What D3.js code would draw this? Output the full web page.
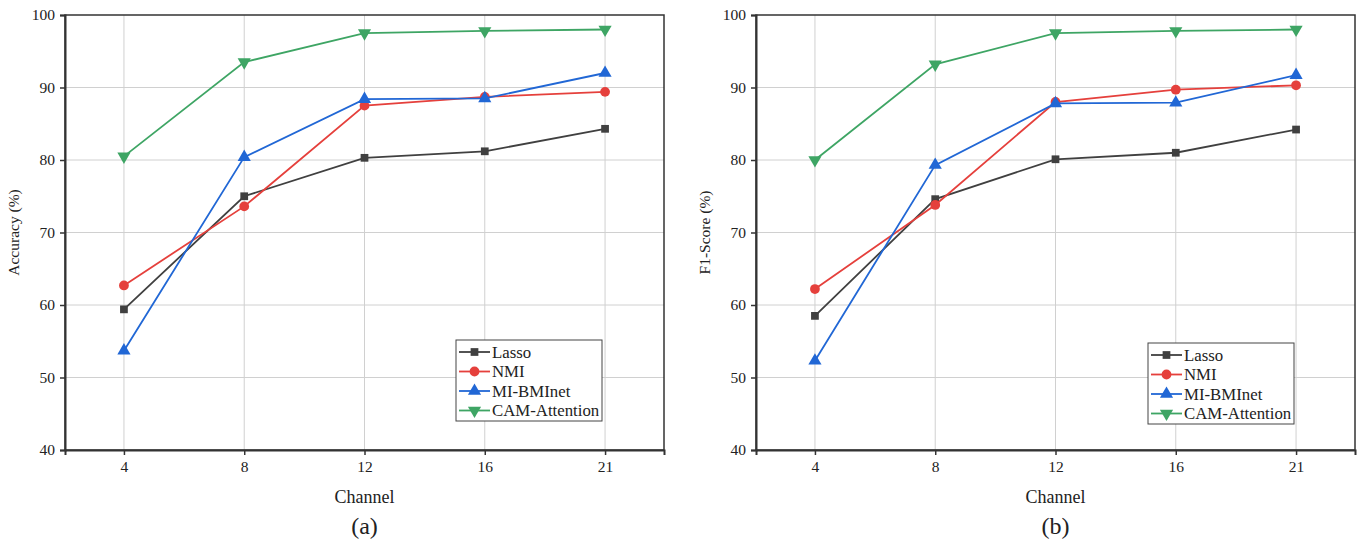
<!DOCTYPE html>
<html>
<head>
<meta charset="utf-8">
<script src="https://cdn.jsdelivr.net/npm/d3@7"></script>
<style>
  body { margin: 0; background: #fff; }
  text { font-family: "Liberation Serif", "Times New Roman", serif; fill: #222; }
</style>
</head>
<body>
<script>
// channels on x axis
var channels = ["4", "8", "12", "16", "21"];
var seriesNames = ["Lasso", "NMI", "MI-BMInet", "CAM-Attention"];
var seriesColors = ["#404040", "#e5403c", "#2167d5", "#3ea564"];
var yTicks = [40, 50, 60, 70, 80, 90, 100];

// (a) accuracy
var accLasso = [59.4, 75.0, 80.3, 81.2, 84.3];
var accNMI = [62.7, 73.6, 87.5, 88.7, 89.4];
var accMI = [53.7, 80.4, 88.4, 88.5, 92.0];
var accCAM = [80.5, 93.5, 97.5, 97.8, 98.0];

// (b) f1-score
var f1Lasso = [58.5, 74.6, 80.1, 81.0, 84.2];
var f1NMI = [62.2, 73.8, 88.0, 89.7, 90.3];
var f1MI = [52.3, 79.3, 87.8, 87.9, 91.7];
var f1CAM = [80.0, 93.2, 97.5, 97.8, 98.0];

var width = 1360;
var height = 544;

var svg = d3.select("body")
            .append("svg")
            .attr("width", width)
            .attr("height", height);

function drawPanel(left, yLabel, caption, data, legendX, legendY) {
    var x0 = left, x1 = left + 599, y0 = 15, y1 = 450;

    var x = d3.scalePoint().domain(channels).range([x0, x1]).padding(0.49);
    var y = d3.scaleLinear().domain([40, 100]).range([y1, y0]);

    var g = svg.append("g");

    // grid
    g.selectAll(".vg").data(channels).enter().append("line")
     .attr("x1", function(d) { return x(d); })
     .attr("x2", function(d) { return x(d); })
     .attr("y1", y0).attr("y2", y1)
     .attr("stroke", "#d0d0d0").attr("stroke-width", 1);
    g.selectAll(".hg").data(yTicks.slice(1, -1)).enter().append("line")
     .attr("x1", x0).attr("x2", x1)
     .attr("y1", function(d) { return y(d); })
     .attr("y2", function(d) { return y(d); })
     .attr("stroke", "#d0d0d0").attr("stroke-width", 1);

    // frame
    g.append("rect")
     .attr("x", x0).attr("y", y0)
     .attr("width", x1 - x0).attr("height", y1 - y0)
     .attr("fill", "none").attr("stroke", "#333").attr("stroke-width", 1.5);

    // axes
    var xAxis = g.append("g")
       .attr("transform", "translate(0," + y1 + ")")
       .call(d3.axisBottom(x).tickSize(5).tickPadding(6));
    var yAxis = g.append("g")
       .attr("transform", "translate(" + x0 + ",0)")
       .call(d3.axisLeft(y).tickValues(yTicks).tickSize(5).tickPadding(5));
    [xAxis, yAxis].forEach(function(a) {
        a.select(".domain").attr("stroke", "#333").attr("stroke-width", 2);
        a.selectAll(".tick line").attr("stroke", "#333").attr("stroke-width", 1.5);
        a.selectAll(".tick text").attr("font-size", "15.5px")
         .attr("font-family", "Liberation Serif").attr("fill", "#222");
    });

    var line = d3.line()
                 .x(function(d, i) { return x(channels[i]); })
                 .y(function(d) { return y(d); });

    var symbols = [d3.symbolSquare, d3.symbolCircle, d3.symbolTriangle, d3.symbolTriangle];
    var sizes = [60, 75, 75, 75];

    data.forEach(function(vals, k) {
        g.append("path")
         .attr("d", line(vals))
         .attr("fill", "none")
         .attr("stroke", seriesColors[k])
         .attr("stroke-width", 1.8);
        g.selectAll(".m" + k).data(vals).enter().append("path")
         .attr("d", d3.symbol().type(symbols[k]).size(sizes[k]))
         .attr("transform", function(d, i) {
             return "translate(" + x(channels[i]) + "," + y(d) + ")" + (k == 3 ? " rotate(180)" : "");
         })
         .attr("fill", seriesColors[k]);
    });

    // legend
    var lg = svg.append("g").attr("transform", "translate(" + legendX + "," + legendY + ")");
    lg.append("rect")
      .attr("x", 0).attr("y", 0).attr("width", 146).attr("height", 81)
      .attr("fill", "#fff").attr("stroke", "#444").attr("stroke-width", 1);
    seriesNames.forEach(function(name, k) {
        var ly = 12 + k * 19.5;
        lg.append("line")
          .attr("x1", 3).attr("x2", 34).attr("y1", ly).attr("y2", ly)
          .attr("stroke", seriesColors[k]).attr("stroke-width", 1.8);
        lg.append("path")
          .attr("d", d3.symbol().type(symbols[k]).size(sizes[k]))
          .attr("transform", "translate(18.5," + ly + ")" + (k == 3 ? " rotate(180)" : ""))
          .attr("fill", seriesColors[k]);
        lg.append("text")
          .attr("x", 36).attr("y", ly + 5.5)
          .attr("font-size", "16.8px")
          .text(name);
    });

    // labels
    svg.append("text")
       .attr("x", (x0 + x1) / 2).attr("y", 503)
       .attr("text-anchor", "middle")
       .attr("font-size", "18px")
       .text("Channel");
    svg.append("text")
       .attr("x", (x0 + x1) / 2).attr("y", 534)
       .attr("text-anchor", "middle")
       .attr("font-size", "24px")
       .text(caption);
    svg.append("text")
       .attr("transform", "translate(" + (x0 - 46) + "," + ((y0 + y1) / 2) + ") rotate(-90)")
       .attr("text-anchor", "middle")
       .attr("font-size", "15.5px")
       .text(yLabel);
}

drawPanel(65, "Accuracy (%)", "(a)", [accLasso, accNMI, accMI, accCAM], 456, 340);
drawPanel(756, "F1-Score (%)", "(b)", [f1Lasso, f1NMI, f1MI, f1CAM], 1148, 343);
</script>
</body>
</html>
